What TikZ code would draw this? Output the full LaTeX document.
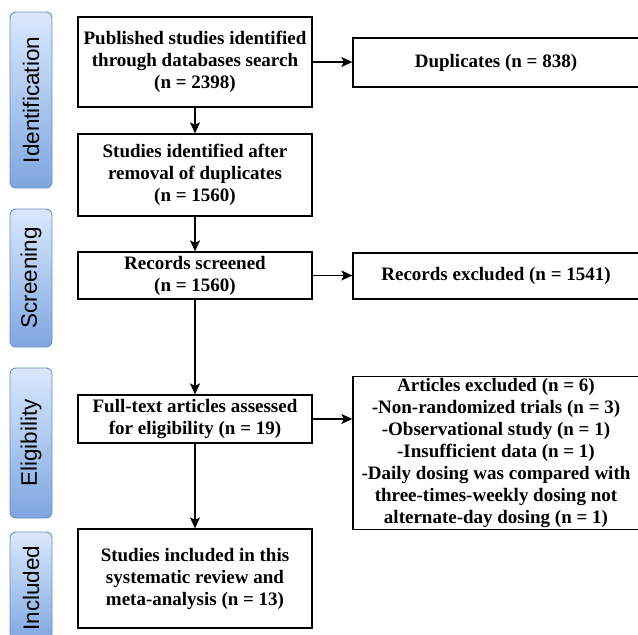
\documentclass[tikz,border=0pt]{standalone}
\usepackage{fontspec}
\setmainfont{Liberation Serif}
\newfontfamily\phasefont{Liberation Sans}
\usetikzlibrary{arrows.meta,positioning}
\definecolor{phasetop}{HTML}{DAE8FC}
\definecolor{phasebot}{HTML}{7EA6E0}
\definecolor{phaseline}{HTML}{6C8EBF}

\begin{document}
\begin{tikzpicture}[x=1pt, y=-1pt, font=\fontsize{19}{22}\selectfont\bfseries, box/.style={draw, line width=1.3pt, minimum width=234pt, align=center, inner sep=2pt}, side/.style={draw, line width=1.3pt, minimum width=286pt, align=center, inner sep=2pt}, phase/.style={draw=phaseline, line width=0.9pt, rounded corners=6pt, rotate=90, top color=phasetop, bottom color=phasebot, minimum height=42pt, inner sep=0pt, font=\phasefont\fontsize{22.5}{26}\selectfont}, arr/.style={-{Stealth[length=11pt,width=10pt,inset=2.5pt]}, line width=1.3pt}]
\clip (0,0) rectangle (638,635);
% phases
\node[phase, minimum width=176pt] (ident) at (31,100) {Identification};
\node[phase, minimum width=138pt] (scr) at (31,278) {Screening};
\node[phase, minimum width=150pt] (elig) at (31,443) {Eligibility};
\node[phase, minimum width=112pt] (incl) at (31,588) {Included};
% main column
\node[box, minimum height=90pt] (pub) at (195,62) {Published studies identified\\through databases search\\(n = 2398)};
\node[box, minimum height=82pt] (dedup) at (195,175) {Studies identified after\\removal of duplicates\\(n = 1560)};
\node[box, minimum height=47pt] (screen) at (195,275.5) {Records screened\\(n = 1560)};
\node[box, minimum height=48pt] (full) at (195,419) {Full-text articles assessed\\for eligibility (n = 19)};
\node[box, minimum height=99pt] (final) at (195,578.5) {Studies included in this\\systematic review and\\meta-analysis (n = 13)};
% side column
\node[side, minimum height=49pt] (dup) at (496,62.5) {Duplicates (n = 838)};
\node[side, minimum height=46pt] (recexcl) at (496,276) {Records excluded (n = 1541)};
\node[side, minimum height=152pt] (artexcl) at (496,453) {Articles excluded (n = 6)\\-Non-randomized trials (n = 3)\\-Observational study (n = 1)\\-Insufficient data (n = 1)\\-Daily dosing was compared with\\three-times-weekly dosing not\\alternate-day dosing (n = 1)};
% arrows
\draw[arr] (pub) -- (dedup);
\draw[arr] (pub) -- (pub -| dup.west);
\draw[arr] (dedup) -- (screen);
\draw[arr] (screen) -- (screen -| recexcl.west);
\draw[arr] (screen) -- (full);
\draw[arr] (full) -- (full -| artexcl.west);
\draw[arr] (full) -- (final);
\end{tikzpicture}
\end{document}
